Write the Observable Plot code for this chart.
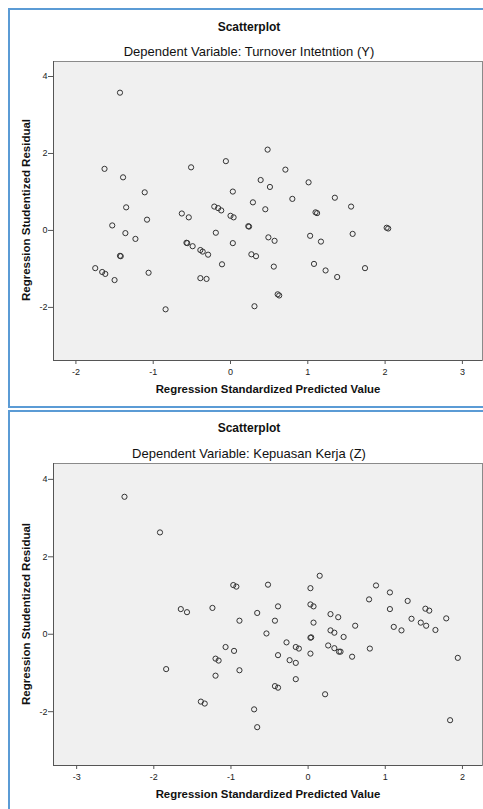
<!DOCTYPE html>
<html>
<head>
<meta charset="utf-8">
<script src="https://cdn.jsdelivr.net/npm/d3@7"></script>
<script src="https://cdn.jsdelivr.net/npm/@observablehq/plot@0.6"></script>
<style>
  html, body { margin: 0; padding: 0; background: #fff; }
  body { position: relative; width: 483px; height: 809px; overflow: hidden; font-family: "Liberation Sans", Arial, sans-serif; color: #111; }
  .chart { position: absolute; left: 0; }
  .frame { position: absolute; box-sizing: border-box; border: 2px solid #5b9bd5; pointer-events: none; }
  .t { position: absolute; white-space: nowrap; transform: translate(-50%, -50%); line-height: 1; }
  .title { font-size: 12px; font-weight: bold; }
  .sub { font-size: 13px; }
  .ax { font-size: 11.4px; font-weight: bold; }
  .ay { font-size: 11.5px; font-weight: bold; transform: translate(-50%, -50%) rotate(-90deg); }
</style>
</head>
<body>
<div id="c1" class="chart" style="top:0px"></div>
<div id="c2" class="chart" style="top:409px"></div>
<div class="frame" style="left:8px; top:8px; width:520px; height:400px"></div>
<div class="frame" style="left:8px; top:410px; width:520px; height:430px"></div>

<div class="t title" style="left:249px; top:27px">Scatterplot</div>
<div class="t sub" style="left:249px; top:51px">Dependent Variable: Turnover Intetntion (Y)</div>
<div class="t ax" style="left:268px; top:390px">Regression Standardized Predicted Value</div>
<div class="t ay" style="left:27px; top:210px">Regression Studentized Residual</div>

<div class="t title" style="left:249px; top:428px">Scatterplot</div>
<div class="t sub" style="left:249px; top:453px">Dependent Variable: Kepuasan Kerja (Z)</div>
<div class="t ax" style="left:268px; top:795px">Regression Standardized Predicted Value</div>
<div class="t ay" style="left:27px; top:614px">Regression Studentized Residual</div>

<script>
// Chart 1: Dependent Variable Turnover Intention (Y)
const predY = [-1.43,-1.63,-1.39,-0.51,-0.06,-1.11,0.03,-1.35,-0.21,-0.16,-0.12,-0.63,-0.54,-1.08,0.00,0.04,-1.53,0.23,0.24,-1.36,-0.19,-1.23,
  0.48,0.71,0.39,0.51,1.01,0.29,0.80,0.45,1.35,1.56,1.10,1.12,2.02,2.04,0.49,0.57,1.03,1.58,
  -0.57,-0.56,-0.49,-0.39,-0.36,-0.29,0.03,1.17,-1.43,-1.42,0.27,0.33,-1.75,-1.66,-1.62,-1.50,-1.06,-0.11,-0.39,-0.31,
  0.56,1.08,1.23,1.38,1.74,0.61,0.63,0.31,-0.84];
const residY = [3.58,1.60,1.38,1.64,1.80,0.99,1.01,0.60,0.62,0.58,0.52,0.44,0.34,0.28,0.38,0.34,0.13,0.11,0.10,-0.07,-0.06,-0.22,
  2.10,1.58,1.31,1.13,1.25,0.73,0.82,0.55,0.85,0.62,0.47,0.45,0.07,0.05,-0.18,-0.27,-0.14,-0.09,
  -0.32,-0.33,-0.41,-0.51,-0.55,-0.63,-0.33,-0.29,-0.66,-0.67,-0.62,-0.67,-0.98,-1.08,-1.13,-1.29,-1.10,-0.88,-1.24,-1.26,
  -0.94,-0.87,-1.04,-1.21,-0.98,-1.66,-1.69,-1.97,-2.05];

// Chart 2: Dependent Variable Kepuasan Kerja (Z)
const predZ = [-2.38,-1.92,-0.97,-0.93,-0.52,-1.65,-1.57,-1.24,-0.66,-0.89,-0.54,-1.07,-0.96,-1.20,-1.16,-1.84,-0.89,-1.20,-1.39,-1.34,-0.70,-0.66,
  0.15,0.03,0.88,1.06,0.79,1.29,-0.39,0.03,0.07,1.06,1.52,1.57,0.29,0.39,-0.43,0.07,0.61,1.34,1.79,1.46,1.53,1.11,1.21,1.65,
  0.29,0.34,0.46,0.03,0.04,-0.28,-0.16,-0.12,0.26,0.34,0.40,0.42,-0.39,0.03,0.57,0.80,-0.24,-0.16,1.94,-0.16,-0.43,-0.39,0.22,1.84];
const residZ = [3.55,2.63,1.27,1.23,1.28,0.65,0.57,0.68,0.55,0.35,0.02,-0.33,-0.43,-0.63,-0.68,-0.90,-0.93,-1.07,-1.74,-1.79,-1.94,-2.40,
  1.51,1.19,1.26,1.08,0.90,0.86,0.72,0.77,0.72,0.65,0.66,0.61,0.52,0.44,0.35,0.30,0.22,0.40,0.41,0.30,0.22,0.19,0.10,0.11,
  0.10,0.04,-0.07,-0.09,-0.08,-0.21,-0.33,-0.37,-0.29,-0.36,-0.45,-0.45,-0.54,-0.50,-0.58,-0.37,-0.67,-0.74,-0.61,-1.16,-1.34,-1.38,-1.55,-2.22];

const yTicks = [4, 2, 0, -2];
const xTicksY = [-2, -1, 0, 1, 2, 3];
const xTicksZ = [-3, -2, -1, 0, 1, 2];

function scatter(xs, ys, xDomain, yDomain, xTicks, mTop, mBottom, h) {
  const data = xs.map((x, i) => ({x, y: ys[i]}));
  return Plot.plot({
    width: 483,
    height: h,
    marginLeft: 53,
    marginRight: 1,
    marginTop: mTop,
    marginBottom: mBottom,
    style: {background: "transparent", fontFamily: "'Liberation Sans', Arial, sans-serif", color: "#222"},
    x: {domain: xDomain},
    y: {domain: yDomain},
    marks: [
      Plot.frame({fill: "#f0f0f0", stroke: "#8a8a8a"}),
      Plot.ruleX([xDomain[0]], {stroke: "#555"}),
      Plot.ruleY([yDomain[0]], {stroke: "#555"}),
      Plot.axisY({ticks: yTicks, tickSize: 5, tickPadding: 1, fontSize: 9, label: null, tickFormat: d => String(d), stroke: "#555"}),
      Plot.axisX({ticks: xTicks, tickSize: 4, tickPadding: 4.5, fontSize: 9, label: null, tickFormat: d => String(d), stroke: "#555"}),
      Plot.dot(data, {x: "x", y: "y", r: 2.6, stroke: "#333", strokeWidth: 1, fill: "none"})
    ]
  });
}

document.getElementById("c1").appendChild(
  scatter(predY, residY, [-2.29, 3.26], [-3.38, 4.39], xTicksY, 61, 40, 400)
);
document.getElementById("c2").appendChild(
  scatter(predZ, residZ, [-3.30, 2.26], [-3.39, 4.41], xTicksZ, 54, 44, 400)
);
</script>
</body>
</html>
